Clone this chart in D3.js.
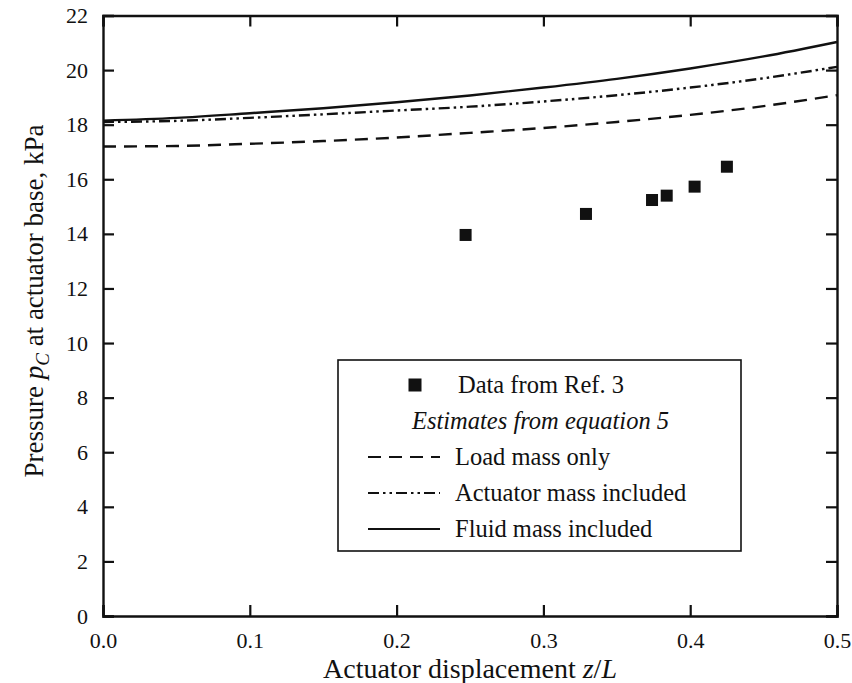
<!DOCTYPE html>
<html>
<head>
<meta charset="utf-8">
<script src="https://cdn.jsdelivr.net/npm/d3@7"></script>
<style>
  body { margin: 0; background: #fff; }
  svg { display: block; font-family: "Liberation Serif", "DejaVu Serif", serif; }
</style>
</head>
<body>
<svg id="chart" width="852" height="683"></svg>
<script>
// ---- data ----
const zGrid = [0, 0.05, 0.1, 0.15, 0.2, 0.25, 0.3, 0.35, 0.4, 0.45, 0.5];
const loadMassOnly     = [17.2, 17.22, 17.3, 17.4, 17.53, 17.7, 17.88, 18.1, 18.36, 18.68, 19.08];
const actuatorMassIncl = [18.1, 18.14, 18.25, 18.38, 18.52, 18.66, 18.85, 19.08, 19.36, 19.7, 20.12];
const fluidMassIncl    = [18.15, 18.25, 18.42, 18.6, 18.82, 19.07, 19.36, 19.68, 20.06, 20.5, 21.03];
const dataX = [0.247, 0.329, 0.374, 0.384, 0.403, 0.425];
const dataY = [13.96, 14.73, 15.24, 15.40, 15.73, 16.46];
const xTicks = [0, 0.1, 0.2, 0.3, 0.4, 0.5];
const yTicks = [0, 2, 4, 6, 8, 10, 12, 14, 16, 18, 20, 22];

// ---- layout ----
const W = 852, H = 683;
const m = {left: 103, right: 15, top: 15.5, bottom: 67};
const svg = d3.select("#chart");
const x = d3.scaleLinear().domain([0, 0.5]).range([m.left, W - m.right]);
const y = d3.scaleLinear().domain([0, 22]).range([H - m.bottom, m.top]);

// series lines
const series = [
  {vals: loadMassOnly, dash: "13,8"},
  {vals: actuatorMassIncl, dash: "11,4,2.5,4,2.5,4"},
  {vals: fluidMassIncl, dash: null}
];
const line = d3.line().x(d => x(d[0])).y(d => y(d[1])).curve(d3.curveMonotoneX);
series.forEach(s => {
  svg.append("path")
    .datum(zGrid.map((z, i) => [z, s.vals[i]]))
    .attr("d", line)
    .attr("fill", "none")
    .attr("stroke", "#111")
    .attr("stroke-width", 2.4)
    .attr("stroke-dasharray", s.dash);
});

// data markers
const ms = 12;
svg.selectAll("rect.pt").data(dataX.map((d, i) => [d, dataY[i]])).enter()
  .append("rect").attr("class", "pt")
  .attr("x", d => x(d[0]) - ms / 2).attr("y", d => y(d[1]) - ms / 2)
  .attr("width", ms).attr("height", ms).attr("fill", "#111");

// axes (ticks inward)
const tl = 11;
const axB = svg.append("g").attr("transform", `translate(0,${y(0)})`)
  .call(d3.axisBottom(x).tickValues(xTicks).tickSize(-tl).tickPadding(16).tickFormat(d3.format(".1f")));
const axT = svg.append("g").attr("transform", `translate(0,${y(22)})`)
  .call(d3.axisTop(x).tickValues(xTicks).tickSize(-tl).tickFormat(""));
const axL = svg.append("g").attr("transform", `translate(${x(0)},0)`)
  .call(d3.axisLeft(y).tickValues(yTicks).tickSize(-tl).tickPadding(15).tickFormat(d3.format("d")));
const axR = svg.append("g").attr("transform", `translate(${x(0.5)},0)`)
  .call(d3.axisRight(y).tickValues(yTicks).tickSize(-tl).tickFormat(""));
[axB, axT, axL, axR].forEach(a => {
  a.select(".domain").attr("stroke", "#111").attr("stroke-width", 2.4);
  a.selectAll(".tick line").attr("stroke", "#111").attr("stroke-width", 2.2);
  a.selectAll("text").attr("font-family", "Liberation Serif").attr("font-size", 22).attr("fill", "#111");
});
axB.selectAll(".tick text").attr("dy", "0.71em");

// axis titles
const xt = svg.append("text").attr("x", 470).attr("y", 678)
  .attr("text-anchor", "middle").attr("font-size", 28).attr("fill", "#111");
xt.append("tspan").text("Actuator displacement ");
xt.append("tspan").attr("font-style", "italic").text("z");
xt.append("tspan").text("/");
xt.append("tspan").attr("font-style", "italic").text("L");

const yt = svg.append("text").attr("transform", "translate(43,301) rotate(-90)")
  .attr("text-anchor", "middle").attr("font-size", 27).attr("fill", "#111");
yt.append("tspan").text("Pressure ");
yt.append("tspan").attr("font-style", "italic").text("p");
yt.append("tspan").attr("font-style", "italic").attr("font-size", 19).attr("dy", 6).text("C");
yt.append("tspan").attr("dy", -6).text(" at actuator base, kPa");

// legend
const lg = svg.append("g");
lg.append("rect").attr("x", 338).attr("y", 360).attr("width", 403).attr("height", 191)
  .attr("fill", "#fff").attr("stroke", "#111").attr("stroke-width", 1.6);
const rows = [385, 421, 457, 493, 529];
lg.append("rect").attr("x", 415 - 6.5).attr("y", rows[0] - 6.5).attr("width", 13).attr("height", 13).attr("fill", "#111");
const lt = (tx, ty, s, it) => lg.append("text").attr("x", tx).attr("y", ty + 8)
  .attr("font-size", 24.5).attr("fill", "#111").attr("font-style", it ? "italic" : null).text(s);
lt(458, rows[0], "Data from Ref. 3");
lt(412, rows[1], "Estimates from equation 5", true);
const labels = ["Load mass only", "Actuator mass included", "Fluid mass included"];
series.forEach((s, i) => {
  lg.append("line").attr("x1", 368).attr("x2", 440).attr("y1", rows[i + 2]).attr("y2", rows[i + 2])
    .attr("stroke", "#111").attr("stroke-width", 2).attr("stroke-dasharray", s.dash);
  lt(455, rows[i + 2], labels[i]);
});
</script>
</body>
</html>
